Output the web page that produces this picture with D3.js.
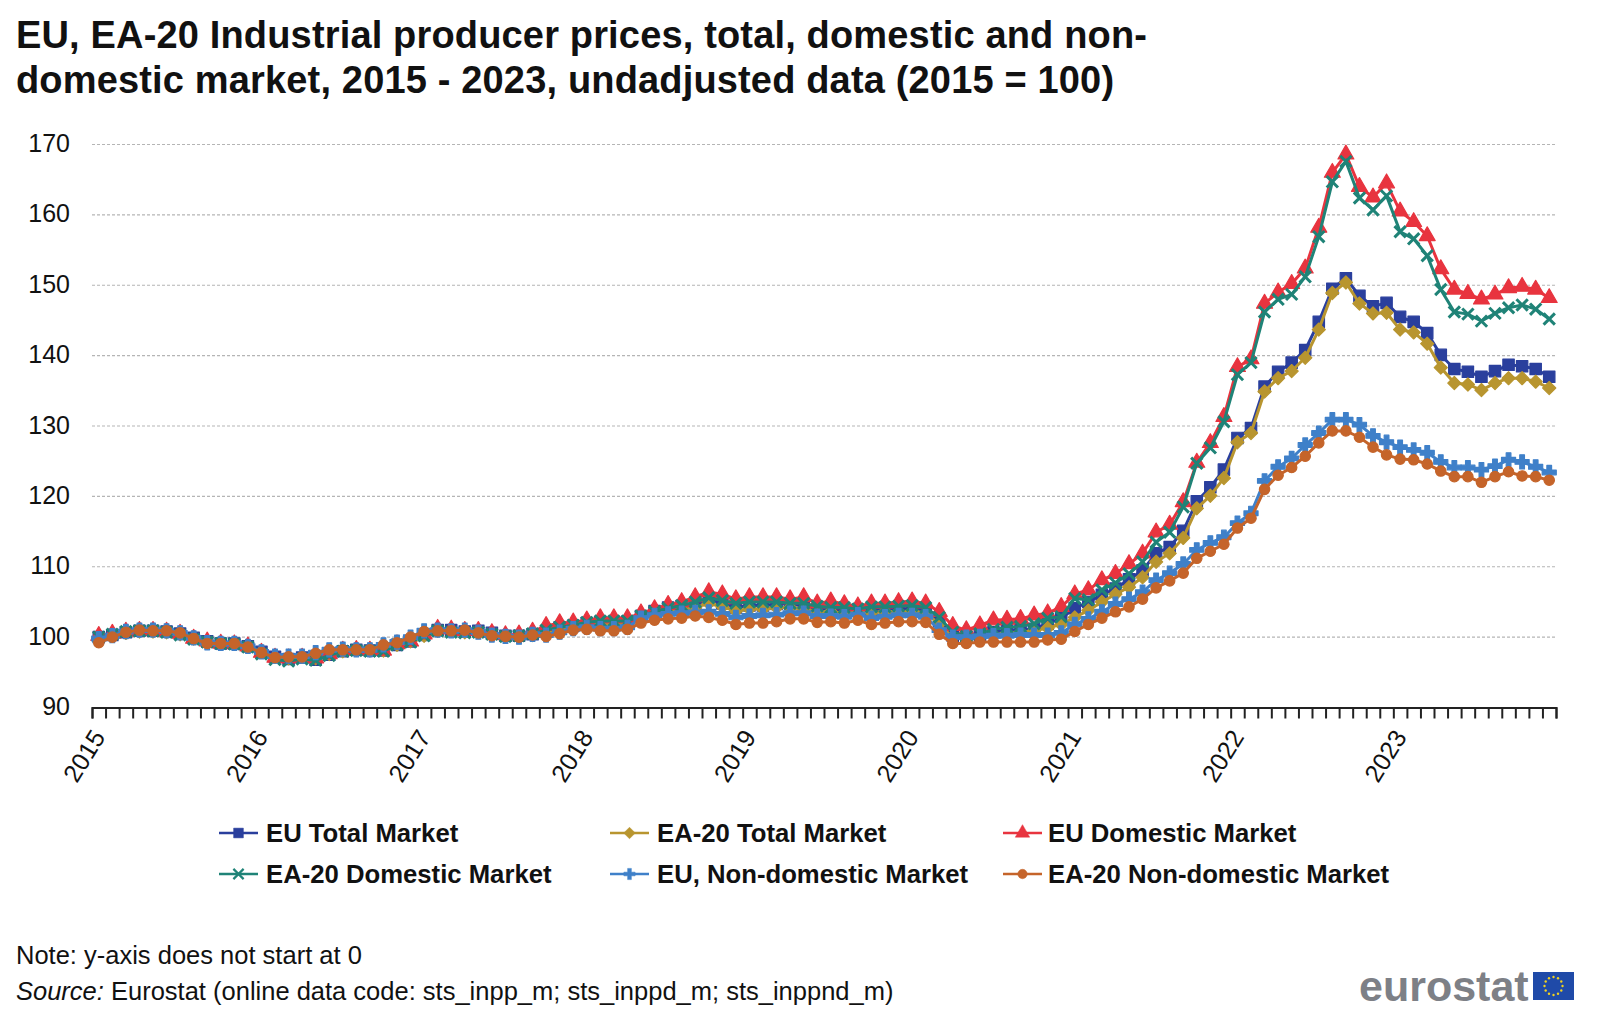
<!DOCTYPE html>
<html><head><meta charset="utf-8">
<script src="https://cdn.jsdelivr.net/npm/d3@7"></script>
<style>html,body{margin:0;padding:0;background:#fff}svg{display:block}text{font-family:"Liberation Sans",Arial,sans-serif;fill:#111}</style>
</head><body><svg id="c" width="1600" height="1014"></svg>
<script>
const titleLines=["EU, EA-20 Industrial producer prices, total, domestic and non-","domestic market, 2015 - 2023, undadjusted data (2015 = 100)"];
const years=[2015,2016,2017,2018,2019,2020,2021,2022,2023];
const yTicks=[90,100,110,120,130,140,150,160,170];
const euTotal=[100,100.3,100.7,100.9,100.9,100.8,100.5,99.9,99.4,99.1,99.1,98.7,
97.9,97.2,96.9,97.1,96.8,97.5,98,98.2,98.1,98.1,98.9,99.4,
100.3,101,101,100.8,100.9,100.6,100.2,100.2,100.4,100.8,101.4,101.6,
102,102.1,102.1,102.2,103,103.7,104.2,104.4,104.7,105.3,104.8,104.2,
104.5,104.5,104.7,104.7,104.5,104,104,103.8,103.9,103.9,104,104,
104.1,103.8,102.3,100.2,100,100.3,100.7,101,101,101.2,101.9,102.7,
104.1,105,106,106.9,108.2,109.5,111.9,112.8,115.1,119.3,121.3,123.8,
128.3,129.7,135.6,137.7,139,140.8,144.8,149.5,151,148.5,147,147.5,
145.5,144.8,143.2,140.1,138.1,137.7,137,137.8,138.7,138.5,138.1,137];
const ea20Total=[100,100.2,100.6,100.8,100.8,100.7,100.4,99.8,99.4,99.1,99.1,98.7,
97.9,97.2,97,97.2,97,97.6,98,98.2,98.1,98.1,98.9,99.4,
100.2,100.9,100.9,100.7,100.8,100.5,100.1,100.1,100.3,100.6,101.2,101.4,
101.8,101.9,101.9,102,103.1,103.5,103.9,103.9,104.2,104.8,104.3,103.7,
104,104,104.2,104.2,104,103.6,103.6,103.4,103.5,103.5,103.6,103.6,
103.7,103.4,101.9,99.9,99.7,100,100.3,100.6,100.7,100.9,101.3,101.8,
102.8,103.8,105,106.1,107.1,108.5,110.7,111.9,114.1,118.3,120.1,122.6,
127.7,129,134.9,136.8,137.8,139.7,143.7,148.9,150.4,147.4,146,146.1,
143.7,143.3,141.7,138.3,136.1,135.9,135.1,136.1,136.8,136.8,136.3,135.4];
const euDomestic=[100.2,100.5,100.8,100.9,100.9,100.8,100.5,99.8,99.4,99.1,99,98.7,
97.8,97.1,97,97.1,97,97.6,98.1,98.2,98.1,98.1,99,99.4,
100.4,101.2,101.1,100.9,100.9,100.6,100.3,100.4,100.8,101.6,102,102.1,
102.4,102.7,102.7,102.7,103.4,104,104.6,105,105.7,106.4,106.1,105.4,
105.7,105.7,105.7,105.4,105.7,104.8,105.1,104.7,104.4,104.8,104.8,105,
105.1,104.8,103.6,101.6,101,101.7,102.4,102.5,102.6,103.1,103.4,104.3,
106.1,106.7,108.1,109,110.4,111.9,114.9,116,119.2,124.8,127.6,131.3,
138.4,139.5,147.4,149,150.2,152.4,158.2,166,168.6,164,162.5,164.5,
160.5,159,157,152.3,149.4,148.8,148,148.7,149.6,149.8,149.4,148.2];
const ea20Domestic=[100,100.4,100.8,100.9,100.9,100.7,100.3,99.7,99.3,99.1,99,98.6,
97.6,96.8,96.6,96.9,96.7,97.4,98,98.1,98,98,98.9,99.3,
100.2,100.9,100.7,100.6,100.7,100.4,100.1,100.2,100.5,101,101.4,101.7,
102.1,102.3,102.3,102.3,103,103.6,104.1,104.5,105,105.6,105.2,104.8,
105,105,105,104.8,104.8,104.4,104.2,104.2,104,104.3,104.3,104.4,
104.5,104.2,102.8,100.7,100.1,100.5,101.1,101.4,101.5,101.9,102.7,102.9,
105.5,105.3,106.7,107.7,109,110.7,113.5,114.9,118.5,124.7,126.9,130.6,
137.3,139,146.2,148,148.7,151.2,156.9,164.7,167.6,162.4,160.7,162.7,
157.6,156.6,154.2,149.4,146.2,145.9,144.9,146,146.8,147.2,146.6,145.2];
const euNonDomestic=[99.8,100.2,100.8,101,101,100.9,100.6,99.9,99.2,99.1,99.1,98.7,
97.9,97.3,97.3,97.3,97.8,98.2,98.3,98.2,98.2,98.9,99.3,100,
100.9,101,100.9,101,100.7,100.3,100.1,100,100.4,100.3,100.7,101.2,
101.4,101.2,101.2,101.4,102.7,103.1,103.3,103.4,103.5,103.6,103.3,102.8,
103,103.1,103.2,103.4,103.4,103,103,102.9,103.2,102.7,102.9,103.1,
103.1,102.9,101,100,100,100.1,100.2,100.2,100.3,100.3,100.3,100.6,
101.8,102.6,103.6,104.7,105.4,106.4,108.1,109.1,110.4,112.4,113.4,114.2,
116.2,117.6,122.2,124.2,125.4,127.3,129,130.9,130.9,130.2,128.6,127.7,
127,126.6,126.2,124.9,124.1,124.1,123.8,124.3,125.2,124.9,124.2,123.4];
const ea20NonDomestic=[99.2,100,100.7,101,100.9,100.9,100.6,99.8,99.1,99.1,99.1,98.6,
97.8,97.1,97.2,97.2,97.7,98.2,98.2,98.2,98.2,98.9,99.2,100,
100.8,100.9,100.9,101,100.6,100.2,100.1,100,100.3,100.1,100.5,101,
101.1,100.9,100.9,101.1,102,102.4,102.6,102.7,103,102.8,102.4,101.8,
102,102,102.2,102.6,102.6,102.1,102.2,102,102.4,101.8,102,102.2,
102.2,102.1,100.4,99.1,99.1,99.3,99.3,99.3,99.3,99.3,99.6,99.7,
100.8,101.8,102.7,103.6,104.3,105.4,107,108,109.1,111.2,112.2,113.2,
115.5,116.9,121,123,124.1,125.7,127.6,129.3,129.3,128.4,127,125.9,
125.3,125.2,124.6,123.6,122.8,122.8,122,122.8,123.5,122.9,122.8,122.3];
const noteText="Note: y-axis does not start at 0";
const sourceLabel="Source:";
const sourceText=" Eurostat (online data code: sts_inpp_m; sts_inppd_m; sts_inppnd_m)";

const seriesList=[
 {name:"EU Total Market",values:euTotal,color:"#2a3f9d",sym:d3.symbolSquare,size:130,lsize:95,lx:219,ly:833,tx:47},
 {name:"EA-20 Total Market",values:ea20Total,color:"#b8952f",sym:d3.symbolDiamond2,size:110,lsize:85,lx:610,ly:833,tx:47},
 {name:"EU Domestic Market",values:euDomestic,color:"#e8343f",sym:d3.symbolTriangle,size:110,lsize:90,lx:1003,ly:833,tx:45},
 {name:"EA-20 Domestic Market",values:ea20Domestic,color:"#1f8377",sym:d3.symbolX,size:85,lsize:70,stroke:true,lx:219,ly:874,tx:47},
 {name:"EU, Non-domestic Market",values:euNonDomestic,color:"#3f80c9",sym:d3.symbolCross,size:110,lsize:70,lx:610,ly:874,tx:47},
 {name:"EA-20 Non-domestic Market",values:ea20NonDomestic,color:"#c5642a",sym:d3.symbolCircle,size:85,lsize:70,lx:1003,ly:874,tx:45}
];
const svg=d3.select("#c");
const x=d3.scaleLinear().domain([0,108]).range([92,1556]);
const y=d3.scaleLinear().domain([90,170]).range([707.5,144.5]);

svg.selectAll("text.title").data(titleLines).join("text").attr("class","title")
 .attr("x",16).attr("y",(d,i)=>48+i*45).attr("font-size",38).attr("letter-spacing",0.16).attr("font-weight",700).text(d=>d);

// gridlines
svg.append("g").selectAll("line").data(yTicks.filter(t=>t>90)).join("line")
 .attr("x1",92).attr("x2",1556).attr("y1",d=>y(d)).attr("y2",d=>y(d))
 .attr("stroke","#b5b5b5").attr("stroke-width",1.2).attr("stroke-dasharray","3 2");

// y labels
const yAxis=d3.axisLeft(y).tickValues(yTicks).tickSize(0).tickPadding(22);
const gy=svg.append("g").attr("transform","translate(92,-1)").call(yAxis);
gy.select(".domain").remove();
gy.selectAll("text").attr("font-size",25).style("font-family",'"Liberation Sans",Arial,sans-serif').attr("fill","#111");

// x axis
const xAxis=d3.axisBottom(x).tickValues(d3.range(0,109)).tickSize(11).tickFormat(i=>i%12===0&&i<108?years[i/12]:"");
const gx=svg.append("g").attr("transform","translate(0,707.5)").call(xAxis);
gx.select(".domain").attr("stroke","#222").attr("stroke-width",2);
gx.selectAll(".tick line").attr("stroke","#222").attr("stroke-width",2);
gx.selectAll(".tick text").attr("font-size",25).style("font-family",'"Liberation Sans",Arial,sans-serif').attr("fill","#111")
 .attr("text-anchor","middle").attr("y",0).attr("dy",0)
 .attr("transform","translate(-1,53) rotate(-58)");

// series
const line=d3.line().x((d,i)=>x(i+0.5)).y(d=>y(d));
seriesList.forEach(s=>{
 const g=svg.append("g");
 g.append("path").attr("d",line(s.values)).attr("fill","none").attr("stroke",s.color).attr("stroke-width",3);
 const sym=d3.symbol().type(s.sym).size(s.size);
 g.selectAll("path.m").data(s.values).join("path").attr("class","m").attr("d",sym())
  .attr("transform",(d,i)=>`translate(${x(i+0.5)},${y(d)})`)
  .attr("fill",s.stroke?"none":s.color).attr("stroke",s.color).attr("stroke-width",s.stroke?3:1.2).attr("stroke-linejoin","round");
});

// legend
const lg=svg.append("g").selectAll("g").data(seriesList).join("g").attr("transform",d=>`translate(${d.lx},${d.ly})`);
lg.append("line").attr("x1",0).attr("x2",39).attr("stroke",d=>d.color).attr("stroke-width",2.6);
lg.append("path").attr("d",d=>d3.symbol().type(d.sym).size(d.lsize)()).attr("transform","translate(19.5,0)")
 .attr("fill",d=>d.stroke?"none":d.color).attr("stroke",d=>d.color).attr("stroke-width",d=>d.stroke?2.2:0.5);
lg.append("text").attr("x",d=>d.tx).attr("y",9).attr("font-size",25.7).attr("font-weight",700).text(d=>d.name);

// notes
svg.append("text").attr("x",16).attr("y",964).attr("font-size",25.5).text(noteText);
const st=svg.append("text").attr("x",16).attr("y",1000).attr("font-size",25.5).attr("xml:space","preserve");
st.append("tspan").attr("font-style","italic").text(sourceLabel);
st.append("tspan").text(sourceText);

// logo
svg.append("text").attr("x",1359).attr("y",1001).attr("font-size",43).attr("font-weight",700)
 .style("fill","#7d8086").text("eurostat");
svg.append("rect").attr("x",1533).attr("y",972).attr("width",41).attr("height",28).attr("fill","#1f4aa8");
svg.append("g").selectAll("circle").data(d3.range(12)).join("circle")
 .attr("cx",i=>1553.5+9*Math.sin(i*Math.PI/6)).attr("cy",i=>986+9*Math.cos(i*Math.PI/6))
 .attr("r",1.2).attr("fill","#f2d21f");
</script></body></html>
